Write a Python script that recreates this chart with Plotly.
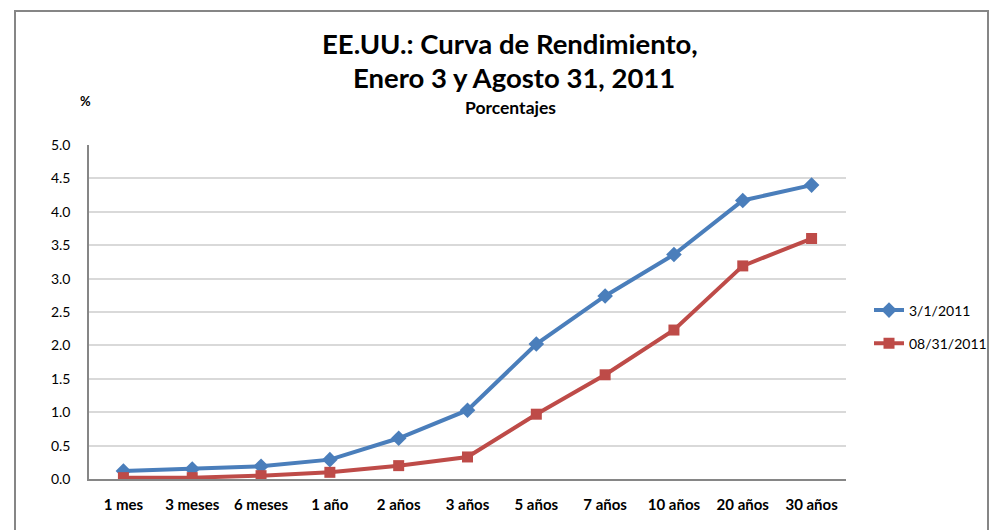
import plotly.graph_objects as go

categories = ["1 mes", "3 meses", "6 meses", "1 año", "2 años", "3 años",
              "5 años", "7 años", "10 años", "20 años", "30 años"]
jan3 = [0.12, 0.15, 0.19, 0.29, 0.61, 1.03, 2.02, 2.74, 3.36, 4.17, 4.40]
aug31 = [0.02, 0.02, 0.05, 0.10, 0.20, 0.33, 0.97, 1.56, 2.23, 3.19, 3.60]
y_ticks = [0.0, 0.5, 1.0, 1.5, 2.0, 2.5, 3.0, 3.5, 4.0, 4.5, 5.0]

OFF = 8  # page body margin
W, H = 999 - OFF, 530 - OFF
L, R, T, B = 89 - OFF, 846 - OFF, 145 - OFF, 479 - OFF
FONT = "Lato, 'Open Sans', sans-serif"

def px(x):
    return (x - OFF - L) / (R - L)

def py(y):
    return (B - (y - OFF)) / (B - T)

fig = go.Figure()
fig.add_trace(go.Scatter(
    x=categories, y=jan3, name="3/1/2011", mode="lines+markers",
    legendgroup="a",
    line=dict(color="#4a7ebb", width=4),
    marker=dict(symbol="diamond", size=12, color="#4a7ebb"),
))
fig.add_trace(go.Scatter(
    x=categories, y=aug31, name="08/31/2011", mode="lines+markers",
    legendgroup="b",
    line=dict(color="#be4b48", width=4),
    marker=dict(symbol="square", size=11, color="#be4b48"),
))

fig.update_layout(
    width=W, height=H,
    margin=dict(l=L, r=W - R, t=T, b=H - B, pad=0, autoexpand=False),
    paper_bgcolor="white", plot_bgcolor="white",
    font=dict(family=FONT, color="black"),
    showlegend=True,
    legend=dict(x=px(869), y=py(327), xanchor="left", yanchor="middle",
                font=dict(size=14, family=FONT), bgcolor="rgba(0,0,0,0)",
                tracegroupgap=12, itemwidth=30, borderwidth=0),
    xaxis=dict(type="category", range=[-0.5, 10.5], showgrid=False,
               showline=True, linecolor="#868686", linewidth=2,
               ticks="", tickfont=dict(size=15, family=FONT, color="black"),
               tickprefix="<b>", ticksuffix="</b>", ticklabelstandoff=11),
    yaxis=dict(range=[0, 5.0], tickvals=y_ticks,
               ticktext=[f"{v:.1f}" for v in y_ticks],
               showgrid=True, gridcolor="#d9d9d9", gridwidth=1.5,
               showline=True, linecolor="#868686", linewidth=1.5,
               ticks="", zeroline=False,
               tickfont=dict(size=14, family=FONT, color="black"),
               ticklabelstandoff=14),
    shapes=[dict(type="rect", xref="paper", yref="paper",
                 x0=px(15), x1=px(988), y0=py(545), y1=py(11),
                 line=dict(color="#868686", width=2), fillcolor="rgba(0,0,0,0)",
                 layer="below")],
    annotations=[
        dict(text="<b>EE.UU.: Curva de Rendimiento,</b>", xref="paper", yref="paper",
             x=px(510), y=py(44), showarrow=False, xanchor="center", yanchor="middle",
             font=dict(size=27.5, family=FONT)),
        dict(text="<b>Enero 3 y Agosto 31, 2011</b>", xref="paper", yref="paper",
             x=px(514), y=py(78), showarrow=False, xanchor="center", yanchor="middle",
             font=dict(size=27.5, family=FONT)),
        dict(text="<b>Porcentajes</b>", xref="paper", yref="paper",
             x=px(510), y=py(107), showarrow=False, xanchor="center", yanchor="middle",
             font=dict(size=17.5, family=FONT)),
        dict(text="<b>%</b>", xref="paper", yref="paper",
             x=px(85), y=py(101), showarrow=False, xanchor="center", yanchor="middle",
             font=dict(size=13, family=FONT)),
    ],
)

fig.write_html("out.html")
